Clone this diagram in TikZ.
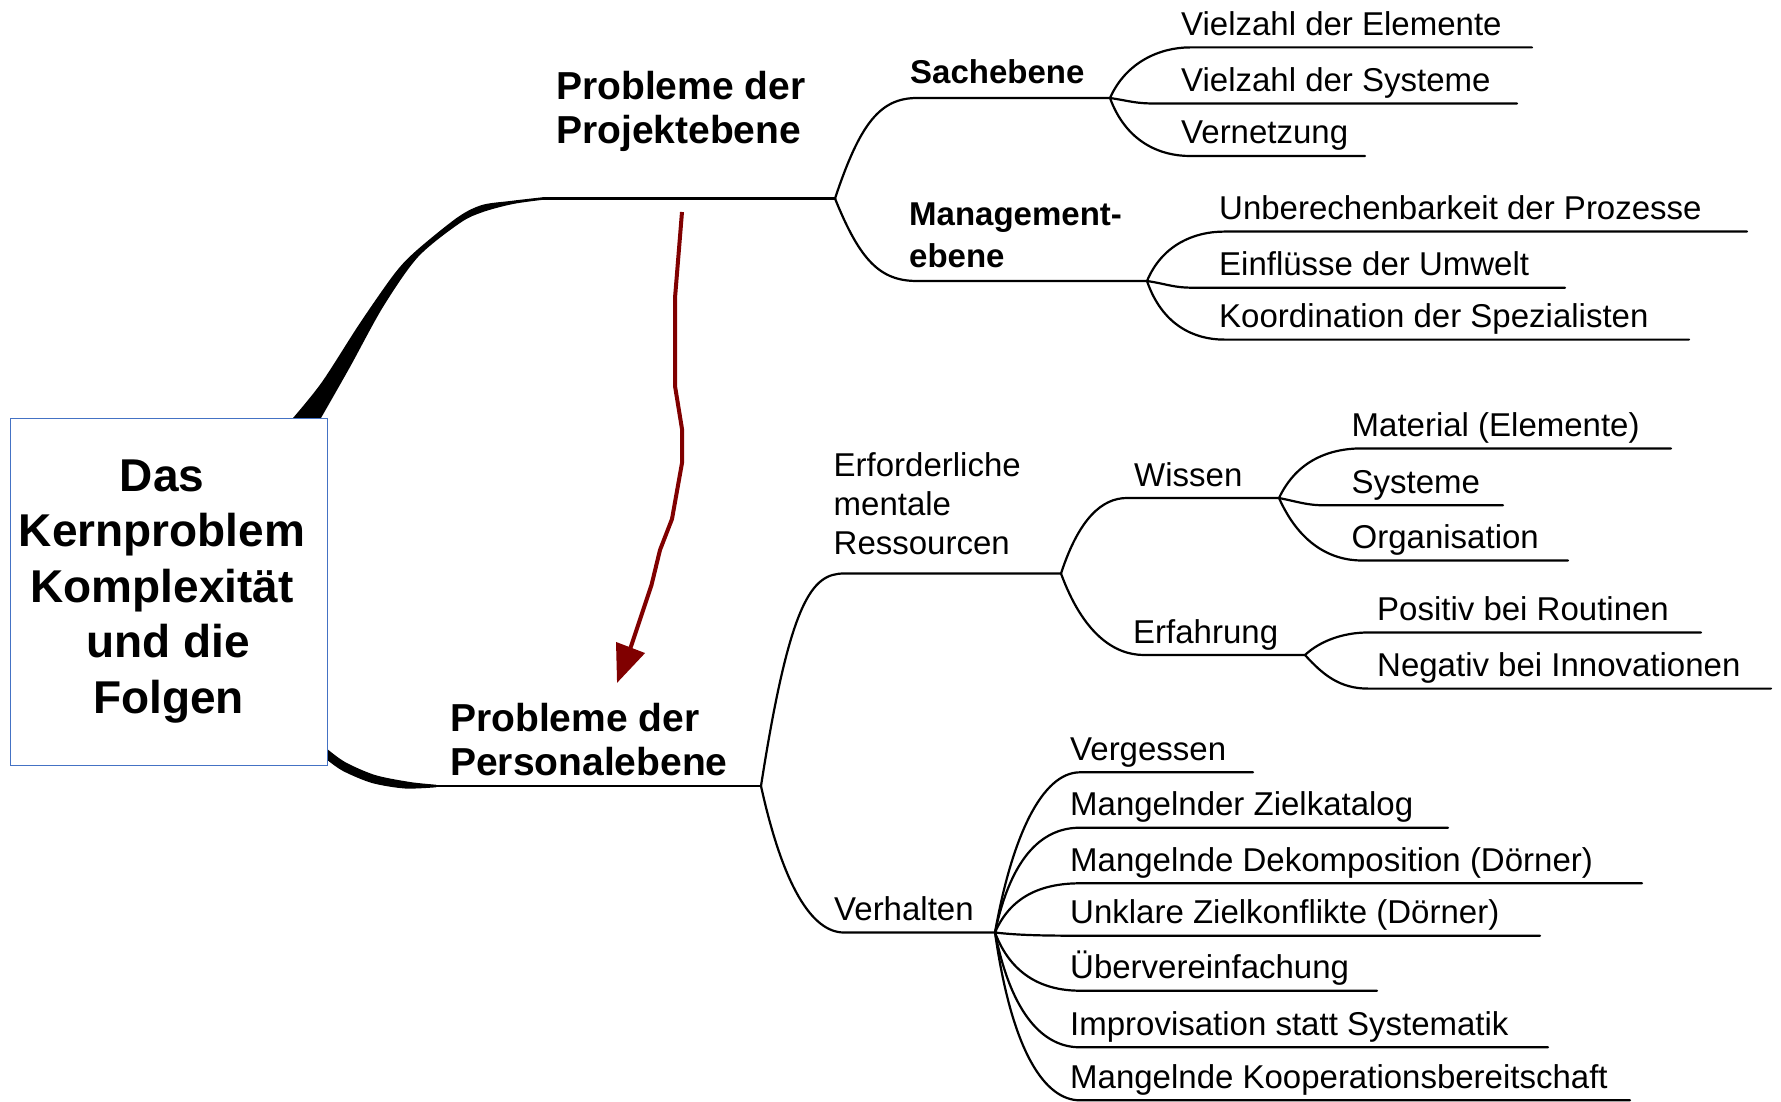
\documentclass[tikz,border=0pt]{standalone}
\usepackage{fontspec}
\setmainfont{Liberation Sans}
\usetikzlibrary{arrows.meta}
\definecolor{boxblue}{RGB}{68,114,196}
\definecolor{darkred}{RGB}{128,0,0}
\begin{document}
\begin{tikzpicture}[x=1pt,y=-1pt,
  ln/.style={line width=2.2pt, line cap=round, line join=round},
  mainln/.style={line width=2.6pt, line cap=round, line join=round},
  txt/.style={anchor=base west, inner sep=0pt, font=\fontsize{33}{39.2}\selectfont},
  subtxt/.style={anchor=base west, inner sep=0pt, font=\fontsize{33}{42}\selectfont\bfseries},
  maintxt/.style={anchor=base west, inner sep=0pt, font=\fontsize{39}{44}\selectfont\bfseries},
  corebox/.style={draw=boxblue, line width=1pt, fill=white, minimum width=317pt, minimum height=347pt,
    inner sep=0pt, align=center, font=\fontsize{46}{55.5}\selectfont\bfseries},
  redarrow/.style={draw=darkred, line width=4pt, line join=round, -{Triangle[length=38pt,width=30pt]}}
]
\useasboundingbox (0,0) rectangle (1781,1102);

% ---------- coordinates of the branch lines ----------
\coordinate (pj0) at (543,198.5);  \coordinate (pjF) at (835,198.5);
\coordinate (saS) at (917,98);     \coordinate (saF) at (1110,98);
\coordinate (maS) at (917,281);    \coordinate (maF) at (1147,281);
\coordinate (ps0) at (436,786);    \coordinate (psF) at (761,786);
\coordinate (erS) at (844,573.5);  \coordinate (erF) at (1061,573.5);
\coordinate (veS) at (844,932.5);  \coordinate (veF) at (995,932.5);
\coordinate (wiS) at (1127,498);   \coordinate (wiF) at (1279,498);
\coordinate (efS) at (1144,655);   \coordinate (efF) at (1305,655);

\coordinate (e1a) at (1190,47.4);  \coordinate (e1b) at (1532,47.4);
\coordinate (e2a) at (1155,103.5); \coordinate (e2b) at (1517,103.5);
\coordinate (e3a) at (1190,156);   \coordinate (e3b) at (1365,156);
\coordinate (m1a) at (1224,231.6); \coordinate (m1b) at (1747,231.6);
\coordinate (m2a) at (1193,287.7); \coordinate (m2b) at (1565,287.7);
\coordinate (m3a) at (1224,339.6); \coordinate (m3b) at (1689,339.6);
\coordinate (w1a) at (1362,448.4); \coordinate (w1b) at (1671,448.4);
\coordinate (w2a) at (1325,505.3); \coordinate (w2b) at (1503,505.3);
\coordinate (w3a) at (1362,560.5); \coordinate (w3b) at (1568,560.5);
\coordinate (f1a) at (1368,632.5); \coordinate (f1b) at (1701,632.5);
\coordinate (f2a) at (1368,688.6); \coordinate (f2b) at (1771,688.6);
\coordinate (v1a) at (1080,772.3); \coordinate (v1b) at (1253,772.3);
\coordinate (v2a) at (1080,827.7); \coordinate (v2b) at (1448,827.7);
\coordinate (v3a) at (1080,883.3); \coordinate (v3b) at (1642,883.3);
\coordinate (v4a) at (1080,935.7); \coordinate (v4b) at (1540,935.7);
\coordinate (v5a) at (1080,990.7); \coordinate (v5b) at (1377,990.7);
\coordinate (v6a) at (1080,1047.3); \coordinate (v6b) at (1548,1047.3);
\coordinate (v7a) at (1080,1100.3); \coordinate (v7b) at (1630,1100.3);

% ---------- tapered main branches from the core ----------
\fill plot[smooth,tension=.5] coordinates {(293,418) (322,382) (360,323) (395,273) (417,250) (458,217) (482,205) (510,201) (543,197.2)}
  -- plot[smooth,tension=.5] coordinates {(543,199.8) (513,204) (483,212) (460,223) (418,257) (383,307) (350,367) (321,418)} -- cycle;
\fill plot[smooth,tension=.5] coordinates {(326,748) (345,762) (375,775) (410,782) (436,784.7)}
  -- plot[smooth,tension=.5] coordinates {(436,787.3) (405,788.5) (372,783) (343,771) (326,759)} -- cycle;

% ---------- main lines ----------
\draw[mainln] (pj0) -- (pjF);
\draw[mainln] (ps0) -- (psF);

% level 2
\draw[ln] (pjF) .. controls +(25,-75) and +(-37,0) .. (saS) -- (saF);
\draw[ln] (pjF) .. controls +(25,62) and +(-37,0) .. (maS) -- (maF);
\draw[ln] (psF) .. controls +(29,-186) and +(-32,0) .. (erS) -- (erF);
\draw[ln] (psF) .. controls +(22,100) and +(-32,0) .. (veS) -- (veF);
% level 3
\draw[ln] (erF) .. controls +(18,-55) and +(-25,0) .. (wiS) -- (wiF);
\draw[ln] (erF) .. controls +(22,60) and +(-30,0) .. (efS) -- (efF);

% leaves Sachebene
\draw[ln] (saF) .. controls +(16,-36) and +(-30,0) .. (e1a) -- (e1b);
\draw[ln] (saF) .. controls +(20,3) and +(-20,0) .. (e2a) -- (e2b);
\draw[ln] (saF) .. controls +(16,44) and +(-30,0) .. (e3a) -- (e3b);
% leaves Managementebene
\draw[ln] (maF) .. controls +(15,-36) and +(-30,0) .. (m1a) -- (m1b);
\draw[ln] (maF) .. controls +(20,3) and +(-20,0) .. (m2a) -- (m2b);
\draw[ln] (maF) .. controls +(15,44) and +(-30,0) .. (m3a) -- (m3b);
% leaves Wissen
\draw[ln] (wiF) .. controls +(18,-38) and +(-32,0) .. (w1a) -- (w1b);
\draw[ln] (wiF) .. controls +(20,4) and +(-18,0) .. (w2a) -- (w2b);
\draw[ln] (wiF) .. controls +(20,45) and +(-32,0) .. (w3a) -- (w3b);
% leaves Erfahrung
\draw[ln] (efF) .. controls +(15,-14) and +(-25,0) .. (f1a) -- (f1b);
\draw[ln] (efF) .. controls +(18,20) and +(-28,0) .. (f2a) -- (f2b);
% leaves Verhalten
\draw[ln] (veF) .. controls +(17,-96) and +(-38,0) .. (v1a) -- (v1b);
\draw[ln] (veF) .. controls +(17,-80) and +(-35,0) .. (v2a) -- (v2b);
\draw[ln] (veF) .. controls +(15,-35) and +(-40,0) .. (v3a) -- (v3b);
\draw[ln] (veF) .. controls +(25,3) and +(-30,0) .. (v4a) -- (v4b);
\draw[ln] (veF) .. controls +(15,40) and +(-40,0) .. (v5a) -- (v5b);
\draw[ln] (veF) .. controls +(17,85) and +(-35,0) .. (v6a) -- (v6b);
\draw[ln] (veF) .. controls +(17,120) and +(-35,0) .. (v7a) -- (v7b);

% ---------- core box ----------
\node[corebox] (core) at (168.5,591.5)
  {Das\hbox to .278em{}\\Kernproblem\hbox to .278em{}\\Komplexität\hbox to .278em{}\\und die\\Folgen};

% ---------- texts ----------
\node[maintxt] (projekt) at (556,100) {\vtop{\hbox{Probleme der}\hbox{Projektebene}}};
\node[maintxt] (personal) at (450,731.5) {\vtop{\hbox{Probleme der}\hbox{Personalebene}}};
\node[subtxt] (sach) at (910,84) {Sachebene};
\node[subtxt] (mgmt) at (909,225.5) {\vtop{\hbox{Management-}\hbox{ebene}}};

\node[txt] (t-e1) at (1181,35.4) {Vielzahl der Elemente};
\node[txt] (t-e2) at (1181,91.5) {Vielzahl der Systeme};
\node[txt] (t-e3) at (1181,144) {Vernetzung};
\node[txt] (t-m1) at (1219,219.6) {Unberechenbarkeit der Prozesse};
\node[txt] (t-m2) at (1219,275.7) {Einflüsse der Umwelt};
\node[txt] (t-m3) at (1219,327.6) {Koordination der Spezialisten};

\node[txt] (ress) at (833.5,476.5) {\vtop{\hbox{Erforderliche}\hbox{mentale}\hbox{Ressourcen}}};
\node[txt] (verh) at (834,920.5) {Verhalten};
\node[txt] (wiss) at (1134,486) {Wissen};
\node[txt] (erf) at (1133,643) {Erfahrung};

\node[txt] (t-w1) at (1351.5,436.4) {Material (Elemente)};
\node[txt] (t-w2) at (1351.5,493.3) {Systeme};
\node[txt] (t-w3) at (1351.5,548.5) {Organisation};
\node[txt] (t-f1) at (1377,620.5) {Positiv bei Routinen};
\node[txt] (t-f2) at (1377,676.6) {Negativ bei Innovationen};

\node[txt] (t-v1) at (1070,760.3) {Vergessen};
\node[txt] (t-v2) at (1070,815.7) {Mangelnder Zielkatalog};
\node[txt] (t-v3) at (1070,871.3) {Mangelnde Dekomposition (Dörner)};
\node[txt] (t-v4) at (1070,923.7) {Unklare Zielkonflikte (Dörner)};
\node[txt] (t-v5) at (1070,978.7) {Übervereinfachung};
\node[txt] (t-v6) at (1070,1035.3) {Improvisation statt Systematik};
\node[txt] (t-v7) at (1070,1088.7) {Mangelnde Kooperationsbereitschaft};

% ---------- red arrow ----------
\coordinate (arrA) at (682,212);
\coordinate (arrB) at (617,683);
\draw[redarrow] (arrA) -- (675,298) -- (675,386) -- (682,429) -- (682,463) -- (672,519)
  -- (660,550) -- (651.5,585) -- (631.5,645) -- (arrB);
\end{tikzpicture}
\end{document}
